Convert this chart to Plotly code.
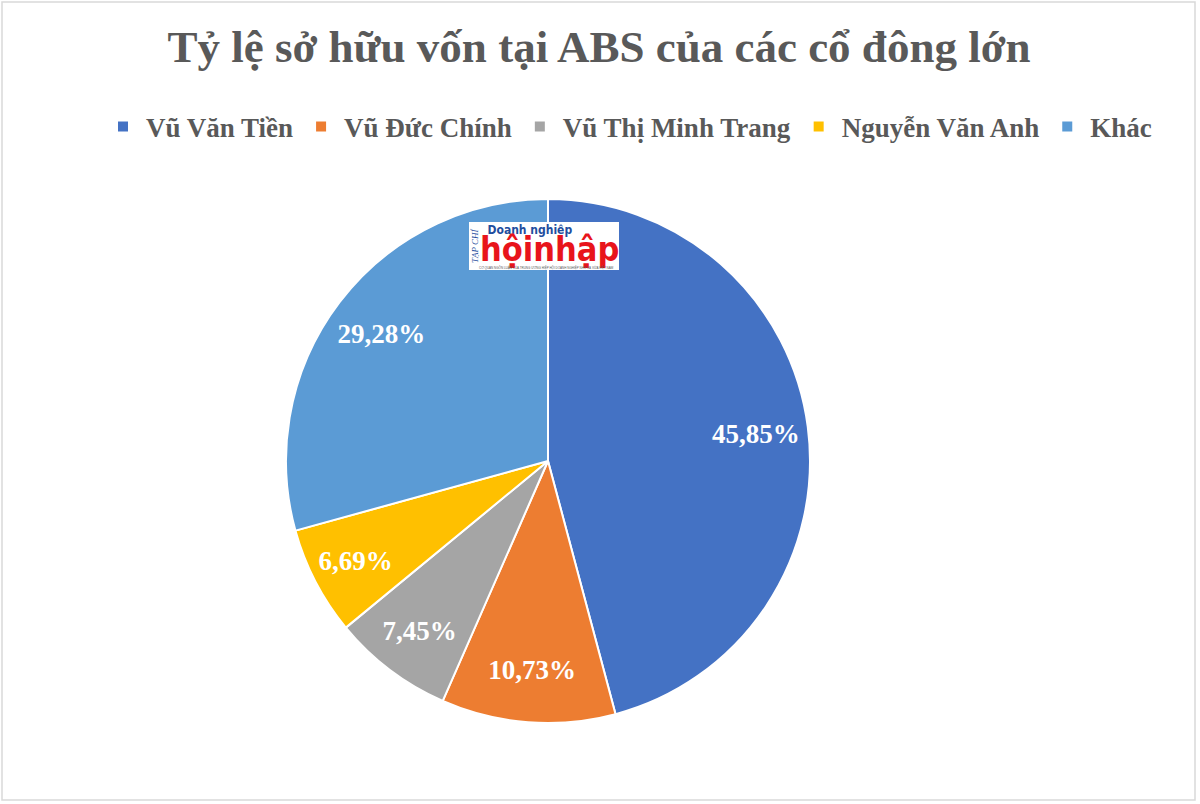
import plotly.graph_objects as go

# Dữ liệu cổ đông
co_dong = ["Vũ Văn Tiền", "Vũ Đức Chính", "Vũ Thị Minh Trang", "Nguyễn Văn Anh", "Khác"]
ty_le = [45.85, 10.73, 7.45, 6.69, 29.28]
mau = ["#4472C4", "#ED7D31", "#A5A5A5", "#FFC000", "#5B9BD5"]

W, H = 1200, 804
FONT = "Liberation Serif"
LOGO_FONT = "Liberation Sans Narrow, DejaVu Sans Condensed, Liberation Sans"


def px(x):
    return x / W


def py(y):
    return 1 - y / H


dom = dict(x=[px(286), px(810)], y=[py(723), py(199)])

# Camembert principal (sans texte)
fig = go.Figure(go.Pie(
    labels=co_dong,
    values=ty_le,
    sort=False,
    direction="clockwise",
    rotation=0,
    marker=dict(colors=mau, line=dict(color="white", width=2)),
    textinfo="none",
    hoverinfo="label+value",
    domain=dom,
))

# Anneau transparent pour placer les étiquettes plus à l'extérieur
fig.add_trace(go.Pie(
    labels=co_dong,
    values=ty_le,
    sort=False,
    direction="clockwise",
    rotation=0,
    hole=0.6,
    showlegend=False,
    marker=dict(colors=["rgba(0,0,0,0)"] * len(ty_le), line=dict(width=0)),
    texttemplate="%{value:.2f}%",
    textposition="inside",
    insidetextorientation="horizontal",
    textfont=dict(family=FONT, size=27, color="white", weight="bold"),
    hoverinfo="skip",
    domain=dom,
))

fig.update_layout(
    width=W, height=H,
    margin=dict(l=0, r=0, t=0, b=0),
    paper_bgcolor="white",
    separators=",.",
    title=dict(
        text="<b>Tỷ lệ sở hữu vốn tại ABS của các cổ đông lớn</b>",
        x=px(599), xanchor="center", y=py(46), yanchor="middle",
        font=dict(family=FONT, size=45, color="#595959"),
    ),
    legend=dict(
        orientation="h", x=px(100), xanchor="left", y=py(127), yanchor="middle",
        font=dict(family=FONT, size=27, color="#595959", weight="bold"),
        itemwidth=36,
    ),
    showlegend=True,
)

# Khung viền biểu đồ
fig.add_shape(type="rect", xref="paper", yref="paper",
              x0=px(2), x1=px(1195), y0=py(800), y1=py(2),
              line=dict(color="#D9D9D9", width=1.5))

# Logo tạp chí
fig.add_shape(type="rect", xref="paper", yref="paper",
              x0=px(469), x1=px(619), y0=py(270), y1=py(222),
              fillcolor="white", line=dict(width=0))
fig.add_annotation(x=px(478), y=py(221), xref="paper", yref="paper",
                   text=("<span style='font-size:12px;color:#1F4E9E'><b>&nbsp;&nbsp;Doanh nghiệp</b></span>"
                         "<br><br><span style='font-size:34px;color:#E8141B'><b>hộinhập</b></span>"),
                   showarrow=False, align="left",
                   xanchor="left", yanchor="top",
                   font=dict(family=LOGO_FONT, size=10.4, color="#E8141B"))
fig.add_annotation(x=px(475), y=py(246), xref="paper", yref="paper",
                   text="<i>TẠP CHÍ</i>", showarrow=False, textangle=-90,
                   xanchor="center", yanchor="middle",
                   font=dict(family=FONT, size=9, color="#1F4E9E"))
fig.add_annotation(x=px(546), y=py(268), xref="paper", yref="paper",
                   text="CƠ QUAN NGÔN LUẬN CỦA TRUNG ƯƠNG HIỆP HỘI DOANH NGHIỆP NHỎ VÀ VỪA VIỆT NAM",
                   showarrow=False, xanchor="center", yanchor="middle",
                   font=dict(family="Liberation Sans", size=3, color="#555555"))

# Bỏ lề mặc định của trang
fig.write_html("out.html", config={"displayModeBar": False},
               post_script="document.body.style.margin='0';")
